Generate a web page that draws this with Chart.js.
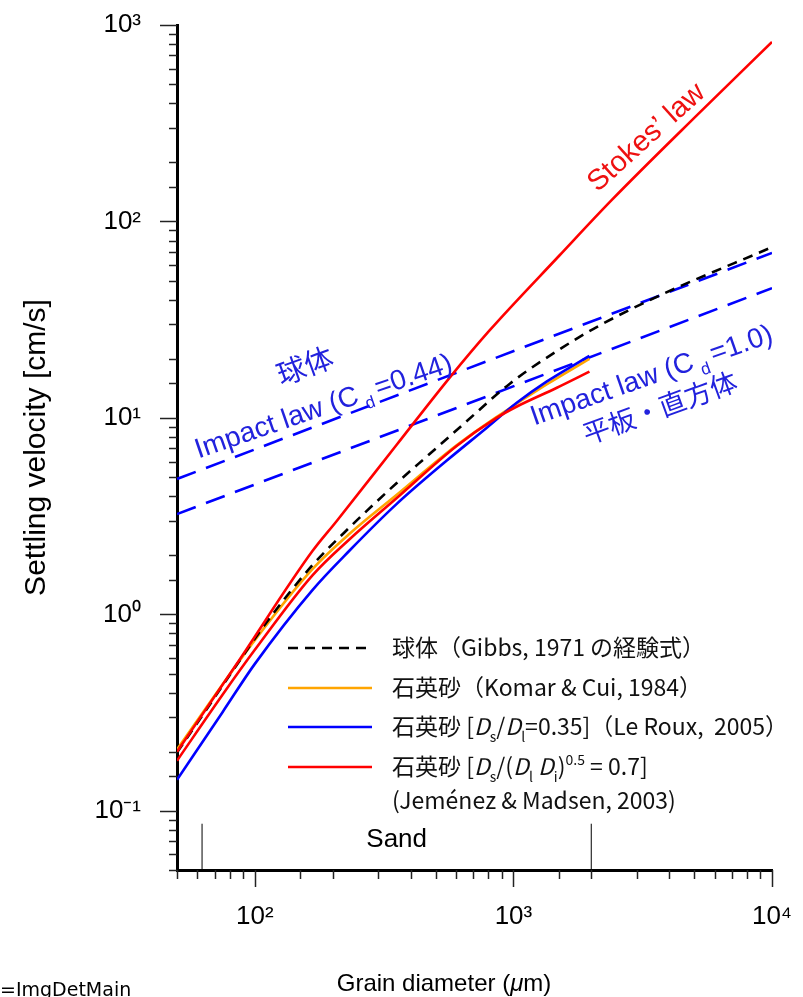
<!DOCTYPE html>
<html><head><meta charset="utf-8">
<script src="https://cdn.jsdelivr.net/npm/chart.js@4.4.0/dist/chart.umd.min.js"></script>
<style>html,body{margin:0;padding:0;background:#fff;}#wrap{width:803px;height:997px;position:relative;}</style>
</head><body><div id="wrap"><canvas id="c" width="803" height="997"></canvas></div>
<script>
// ---------- data (grain diameter in µm, settling velocity in cm/s) ----------
const gibbsD   = [50, 63, 85.3, 114, 167, 233, 353, 474, 635, 966, 1545, 2148, 3664, 10000];
const gibbsV   = [0.198, 0.309, 0.556, 0.955, 1.78, 2.78, 4.65, 6.55, 9.2, 14.9, 22.8, 29.5, 41.9, 74];
const komarD   = [50, 75, 100, 167, 233, 353, 603, 860, 1343, 1968];
const komarV   = [0.205, 0.44, 0.74, 1.70, 2.58, 4.05, 7.25, 10.1, 14.8, 20.0];
const leRouxD  = [50, 75, 100, 167, 233, 353, 551, 787, 1027, 1343, 1968];
const leRouxV  = [0.144, 0.318, 0.56, 1.33, 2.12, 3.64, 6.05, 8.89, 11.9, 15.3, 20.7];
const jimenezD = [50, 75, 100, 167, 233, 353, 603, 860, 1027, 1466, 1968];
const jimenezV = [0.180, 0.39, 0.66, 1.58, 2.42, 3.90, 7.2, 10.0, 11.4, 14.2, 17.2];
const stokesD  = [50, 85.3, 167, 207, 353, 566, 807, 1506, 2392, 5224, 10000];
const stokesV  = [0.200, 0.562, 2.10, 2.98, 7.28, 16.0, 27.8, 67.1, 128, 356, 820];
const impactD    = [50, 10000];
const impact044V = [4.89, 69.2];
const impact10V  = [3.24, 45.8];
const sandD = [62.5, 2000];
const sandV = [0.05, 0.086];

const xTickValues = [100, 1000, 10000];
const xTickLabels = ['10²', '10³', '10⁴'];
const yTickValues = [0.1, 1, 10, 100, 1000];
const yTickLabels = ['10⁻¹', '10⁰', '10¹', '10²', '10³'];

const xTitle = [['Grain diameter (', 'n'], ['μ', 'i'], ['m)', 'n']];
const yTitle = 'Settling velocity [cm/s]';
const sandLabel = 'Sand';
const strayLabel = '=ImgDetMain';

const seriesNames = ['Stokes’ law', '石英砂 (Jeménez & Madsen, 2003)', '球体 (Gibbs, 1971)', '石英砂 (Le Roux, 2005)', '石英砂 (Komar & Cui, 1984)', 'Impact law Cd=0.44', 'Impact law Cd=1.0'];

const legendTexts = [
  [['球体（Gibbs, 1971 の経験式）', 'n']],
  [['石英砂（Komar & Cui, 1984）', 'n']],
  [['石英砂 [', 'n'], ['D', 'i'], ['s', 'sub'], ['/', 'n'], ['D', 'i'], ['l', 'sub'], ['=0.35]（Le Roux,  2005）', 'n']],
  [['石英砂 [', 'n'], ['D', 'i'], ['s', 'sub'], ['/(', 'n'], ['D', 'i'], ['l', 'sub'], [' D', 'i'], ['i', 'sub'], [')', 'n'], ['0.5', 'sup'], [' = 0.7]', 'n']],
  [['(Jeménez & Madsen, 2003)', 'n']]
];
const annoStokes = [['Stokes’ law', 'n']];
const annoSphere = [['球体', 'n']];
const annoImpact044 = [['Impact law (C', 'n'], [' d ', 'sub'], ['=0.44)', 'n']];
const annoImpact10 = [['Impact law (C', 'n'], [' d ', 'sub'], ['=1.0)', 'n']];
const annoPlate = [['平板・直方体', 'n']];

// ---------- helpers ----------
const pts = (xs, ys) => xs.map((x, i) => ({x: x, y: ys[i]}));
const isDecade = v => Math.abs(Math.log10(v) - Math.round(Math.log10(v))) < 1e-6;
const labelFor = (vals, labs, v) => { const i = vals.findIndex(t => Math.abs(t - v) / t < 1e-6); return i >= 0 ? labs[i] : ''; };

function drawRich(ctx, segs, x, y, size, fam, color, align) {
  const fontFor = s => s === 'i' ? `italic ${size}px ${fam}` : (s === 'sub' || s === 'sup') ? `${Math.round(size * 0.6)}px ${fam}` : `${size}px ${fam}`;
  let w = 0;
  segs.forEach(([t, s]) => { ctx.font = fontFor(s); w += ctx.measureText(t).width; });
  let cx = align === 'center' ? x - w / 2 : x;
  ctx.fillStyle = color; ctx.textBaseline = 'alphabetic'; ctx.textAlign = 'left';
  segs.forEach(([t, s]) => {
    ctx.font = fontFor(s);
    const dy = s === 'sub' ? size * 0.3 : s === 'sup' ? -size * 0.42 : 0;
    ctx.fillText(t, cx, y + dy);
    cx += ctx.measureText(t).width;
  });
  return w;
}
function drawRotated(ctx, segs, cx, cy, deg, size, fam, color) {
  ctx.save();
  ctx.translate(cx, cy);
  ctx.rotate(deg * Math.PI / 180);
  drawRich(ctx, segs, 0, size * 0.36, size, fam, color, 'center');
  ctx.restore();
}

const LAT = "'Liberation Sans', 'Noto Sans CJK JP', sans-serif";
const CJK = "'Noto Sans CJK JP', 'Liberation Sans', sans-serif";
const BLUE_TXT = '#2222dd';

const decor = {
  id: 'decor',
  afterDatasetsDraw(chart) {
    const ctx = chart.ctx, xs = chart.scales.x;
    drawRotated(ctx, annoStokes, 645, 136, -42, 29, LAT, '#ee1111');
    drawRotated(ctx, annoSphere, 305, 366, -20, 29, CJK, BLUE_TXT);
    drawRotated(ctx, annoImpact044, 323, 405, -19, 28, LAT, BLUE_TXT);
    drawRotated(ctx, annoImpact10, 651, 374, -19.3, 28, LAT, BLUE_TXT);
    drawRotated(ctx, annoPlate, 660, 408, -20, 27, CJK, BLUE_TXT);
    const ds = chart.data.datasets;
    const rowY = [648, 688, 727, 767];
    const rowDs = [2, 4, 3, 1];
    rowY.forEach((y, i) => {
      const d = ds[rowDs[i]];
      ctx.save();
      ctx.strokeStyle = d.borderColor; ctx.lineWidth = d.borderWidth;
      ctx.setLineDash(d.borderDash || []);
      ctx.beginPath(); ctx.moveTo(288, y); ctx.lineTo(372, y); ctx.stroke();
      ctx.restore();
    });
    const textY = [656, 696, 735, 775, 809];
    legendTexts.forEach((segs, i) => drawRich(ctx, segs, 392, textY[i], 23, CJK, '#111', 'left'));
    ctx.save();
    ctx.font = `26px ${LAT}`; ctx.fillStyle = '#000'; ctx.textAlign = 'center'; ctx.textBaseline = 'alphabetic';
    ctx.fillText(sandLabel, (xs.getPixelForValue(sandD[0]) + xs.getPixelForValue(sandD[1])) / 2, 847);
    ctx.restore();
  },
  afterDraw(chart) {
    const ctx = chart.ctx, ca = chart.chartArea, xs = chart.scales.x, ys = chart.scales.y;
    ctx.save();
    ctx.strokeStyle = '#222'; ctx.lineWidth = 1.5;
    ys.ticks.forEach(t => {
      const p = Math.round(ys.getPixelForValue(t.value)) + 0.5;
      ctx.beginPath(); ctx.moveTo(ca.left, p); ctx.lineTo(ca.left - (isDecade(t.value) ? 17 : 8), p); ctx.stroke();
    });
    xs.ticks.forEach(t => {
      const p = Math.round(xs.getPixelForValue(t.value)) + 0.5;
      ctx.beginPath(); ctx.moveTo(p, ca.bottom); ctx.lineTo(p, ca.bottom + (isDecade(t.value) ? 17 : 9)); ctx.stroke();
    });
    ctx.restore();
    drawRich(ctx, xTitle, 444, 991, 24, LAT, '#000', 'center');
    ctx.save();
    ctx.font = "19px 'DejaVu Sans', sans-serif"; ctx.fillStyle = '#000'; ctx.textAlign = 'left'; ctx.textBaseline = 'alphabetic';
    ctx.fillText(strayLabel, 0, 996);
    ctx.restore();
  }
};

const line = (label, xs, ys, color, width, dash, mono) => ({
  label, data: pts(xs, ys), borderColor: color, backgroundColor: color, borderWidth: width,
  borderDash: dash, pointRadius: 0, fill: false, cubicInterpolationMode: mono ? 'monotone' : 'default', tension: 0
});

const datasets = [
  line(seriesNames[0], stokesD, stokesV, '#ff0000', 2.6, [], true),
  line(seriesNames[1], jimenezD, jimenezV, '#ff0000', 2.6, [], true),
  line(seriesNames[2], gibbsD, gibbsV, '#000000', 2.6, [10, 7], true),
  line(seriesNames[3], leRouxD, leRouxV, '#0000ff', 2.6, [], true),
  line(seriesNames[4], komarD, komarV, '#ffa500', 2.6, [], true),
  line(seriesNames[5], impactD, impact044V, '#0000ff', 2.6, [20, 11], false),
  line(seriesNames[6], impactD, impact10V, '#0000ff', 2.6, [20, 11], false),
  line('Sand lower bound', [sandD[0], sandD[0]], sandV, '#000000', 1, [], false),
  line('Sand upper bound', [sandD[1], sandD[1]], sandV, '#000000', 1, [], false)
];

new Chart(document.getElementById('c'), {
  type: 'line',
  data: { datasets },
  options: {
    responsive: false, maintainAspectRatio: false, animation: false,
    layout: { padding: { left: 0, right: 31, top: 25, bottom: 0 } },
    plugins: { legend: { display: false }, tooltip: { enabled: false } },
    scales: {
      x: {
        type: 'logarithmic', min: 50, max: 10000,
        afterFit: s => { s.height = 127; },
        grid: { display: false, drawTicks: true, tickLength: 31 },
        border: { display: true, color: '#000', width: 3 },
        ticks: { autoSkip: false, maxRotation: 0, minRotation: 0, padding: 0, color: '#000',
          font: { family: 'Liberation Sans', size: 26 },
          callback: v => labelFor(xTickValues, xTickLabels, v) }
      },
      y: {
        type: 'logarithmic', min: 0.05, max: 1000,
        afterFit: s => { s.width = 177; },
        grid: { display: false, drawTicks: true, tickLength: 36 },
        border: { display: true, color: '#000', width: 3 },
        title: { display: true, text: yTitle, color: '#000', font: { family: 'Liberation Sans', size: 30 }, padding: { top: 19, bottom: 0 } },
        ticks: { autoSkip: false, padding: 0, color: '#000',
          font: { family: 'Liberation Sans', size: 26 },
          callback: v => labelFor(yTickValues, yTickLabels, v) }
      }
    }
  },
  plugins: [decor]
});
</script></body></html>
